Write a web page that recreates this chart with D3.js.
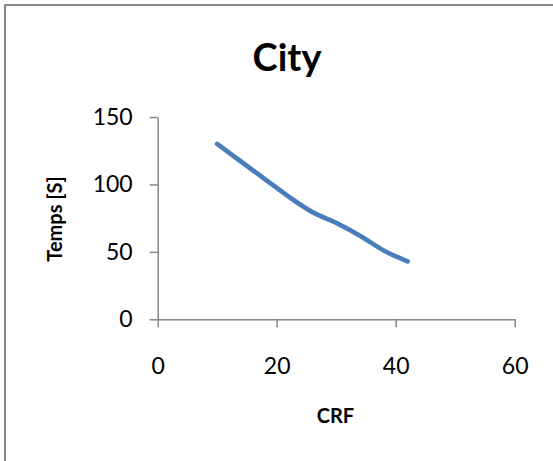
<!DOCTYPE html>
<html>
<head>
<meta charset="utf-8">
<script src="https://cdn.jsdelivr.net/npm/d3@7"></script>
<style>
  html, body { margin: 0; padding: 0; background: #fff; }
  svg { display: block; }
  text { font-family: Lato, "Open Sans", sans-serif; fill: #000; }
</style>
</head>
<body>
<svg id="chart" width="553" height="461"></svg>
<script>
// Encoding time per CRF setting
const crf = [10, 14, 18, 22, 26, 30, 34, 38, 42];
const temps = [130, 117, 104, 91, 79.5, 71.5, 62, 51, 43];
const xTicks = [0, 20, 40, 60];
const yTicks = [0, 50, 100, 150];
const title = "City";
const xLabel = "CRF";
const yLabel = "Temps [S]";

const svg = d3.select("#chart");
const W = 553, H = 461;
const axisColor = "#868686";

// chart area frame
svg.append("rect")
  .attr("x", 5).attr("y", 5)
  .attr("width", W + 20).attr("height", H + 20)
  .attr("fill", "#fff")
  .attr("stroke", axisColor)
  .attr("stroke-width", 2);

const plot = { left: 157.7, right: 514.7, top: 117, bottom: 319.3 };

const x = d3.scaleLinear().domain([0, 60]).range([plot.left, plot.right]);
const y = d3.scaleLinear().domain([0, 150]).range([plot.bottom, plot.top]);

// y axis
const yAxis = svg.append("g")
  .attr("transform", `translate(${plot.left},0)`)
  .call(d3.axisLeft(y).tickValues(yTicks).tickSize(8).tickPadding(17).tickSizeOuter(0));
// x axis
const xAxis = svg.append("g")
  .attr("transform", `translate(0,${plot.bottom})`)
  .call(d3.axisBottom(x).tickValues(xTicks).tickSize(8).tickPadding(30).tickSizeOuter(0));

[xAxis, yAxis].forEach(g => {
  g.select(".domain").attr("stroke", axisColor).attr("stroke-width", 1.5);
  g.selectAll(".tick line").attr("stroke", axisColor).attr("stroke-width", 1.5);
  g.selectAll(".tick text")
    .attr("font-family", "Lato, 'Open Sans', sans-serif")
    .attr("font-size", 23)
    .attr("fill", "#000");
});

// smoothed data line
const line = d3.line()
  .x((d, i) => x(crf[i]))
  .y(d => y(d))
  .curve(d3.curveCardinal.tension(0));

svg.append("path")
  .datum(temps)
  .attr("d", line)
  .attr("fill", "none")
  .attr("stroke", "#4a7ebb")
  .attr("stroke-width", 4.7)
  .attr("stroke-linecap", "round")
  .attr("stroke-linejoin", "round");

// title
svg.append("text")
  .attr("x", 287).attr("y", 71)
  .attr("text-anchor", "middle")
  .attr("font-size", 38)
  .attr("font-weight", "bold")
  .text(title);

// axis titles
svg.append("text")
  .attr("x", 335.5).attr("y", 423)
  .attr("text-anchor", "middle")
  .attr("font-size", 20)
  .attr("font-weight", "bold")
  .text(xLabel);

svg.append("text")
  .attr("transform", "translate(62,219) rotate(-90)")
  .attr("text-anchor", "middle")
  .attr("font-size", 20)
  .attr("font-weight", "bold")
  .text(yLabel);
</script>
</body>
</html>
